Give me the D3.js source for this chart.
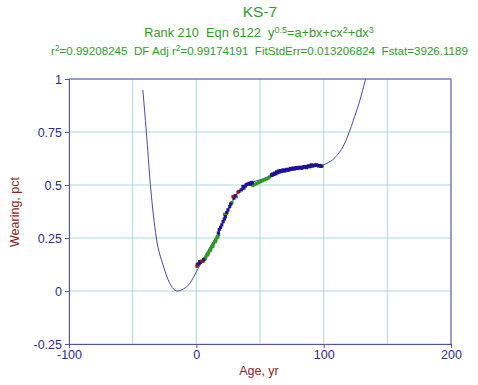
<!DOCTYPE html>
<html><head><meta charset="utf-8">
<script src="https://cdn.jsdelivr.net/npm/d3@7/dist/d3.min.js"></script>
<style>body{margin:0;background:#fff}svg{display:block}</style>
</head><body>
<script>
const xTicks = [-100, 0, 100, 200];
const xGrid = [-100, -50, 0, 50, 100, 150, 200];
const yTicks = [-0.25, 0, 0.25, 0.5, 0.75, 1];

const curveX = [-42, -39.3, -36.1, -31.4, -26.2, -21, -15, -10, -5, 0, 5, 10, 17, 22, 25, 28.8, 33, 39.3, 45, 49.7, 57, 65, 73, 81, 90, 99.5, 104, 107.3, 110.5, 113.9, 117, 120.4, 123, 128, 133, 136];
const curveY = [0.948, 0.754, 0.502, 0.25, 0.124, 0.038, 0.0, 0.01, 0.037, 0.09, 0.146, 0.2, 0.272, 0.335, 0.378, 0.428, 0.465, 0.5, 0.515, 0.524, 0.54, 0.556, 0.569, 0.579, 0.587, 0.595, 0.607, 0.62, 0.64, 0.667, 0.703, 0.754, 0.8, 0.89, 1.0, 1.06];

const blueX = [0.8, 1.5, 2.4, 2.6, 3.3, 4.6, 5.7, 17.3, 18, 19, 20, 21, 22, 22.8, 24, 24.8, 26.2, 27, 29.5, 30.5, 33.5, 35.3, 36.6, 37.4, 38.5, 39.3, 40.5, 41.5, 42.3, 43.2, 44,
  58.9, 59.5, 60, 61, 61.5, 62.5, 63, 64, 64.5, 65.5, 66, 67, 68, 69, 69.5, 70.5, 71, 72, 72.5, 73.5, 74, 75, 75.9, 76.5, 77, 78, 78.5, 79.5, 80, 81, 81.5, 82.5, 83, 83.7, 84.5, 85, 86, 86.5, 87.5, 88, 89, 89.5, 90.3, 91, 91.5, 92.5, 93, 94, 94.5, 95.5, 96, 96.9, 97.5, 98];
const blueY = [0.125, 0.127, 0.132, 0.138, 0.135, 0.14, 0.148, 0.274, 0.29, 0.30, 0.312, 0.327, 0.34, 0.351, 0.37, 0.383, 0.398, 0.41, 0.438, 0.45, 0.47, 0.477, 0.493, 0.485, 0.495, 0.502, 0.505, 0.508, 0.503, 0.512, 0.51,
  0.548, 0.545, 0.552, 0.55, 0.556, 0.553, 0.562, 0.558, 0.566, 0.562, 0.568, 0.565, 0.571, 0.569, 0.566, 0.572, 0.574, 0.571, 0.57, 0.575, 0.578, 0.574, 0.58, 0.577, 0.576, 0.58, 0.582, 0.578, 0.579, 0.583, 0.583, 0.58, 0.58, 0.584, 0.586, 0.587, 0.584, 0.582, 0.588, 0.59, 0.586, 0.589, 0.595, 0.591, 0.59, 0.592, 0.593, 0.595, 0.594, 0.592, 0.59, 0.592, 0.59, 0.588];

const greenX = [5.5, 6.5, 7.5, 8.5, 9.5, 10.5, 11.5, 12.5, 13.5, 14.5, 15.5, 16.5, 17.5, 7, 9, 11, 13, 15, 17, 22.2, 23.6, 27.5, 28, 31.4, 44.5, 46, 47.5, 49, 50.5, 52, 53.6, 55, 56.3, 57.6, 99];
const greenY = [0.142, 0.15, 0.16, 0.17, 0.18, 0.19, 0.2, 0.21, 0.222, 0.232, 0.243, 0.254, 0.266, 0.152, 0.172, 0.192, 0.212, 0.235, 0.256, 0.362, 0.367, 0.414, 0.418, 0.445, 0.497, 0.503, 0.507, 0.512, 0.516, 0.52, 0.524, 0.528, 0.532, 0.538, 0.59];

const redX = [0.5, 4.2, 28.8, 32.7];
const redY = [0.117, 0.14, 0.445, 0.466];

const W = 478, H = 385;
const m = {left: 69, right: 27, top: 79, bottom: 41};
const svg = d3.select("body").append("svg").attr("width", W).attr("height", H)
  .style("font-family", "'Liberation Sans', Arial, sans-serif");

const x = d3.scaleLinear().domain([-100, 200]).range([m.left, W - m.right]);
const y = d3.scaleLinear().domain([-0.25, 1]).range([H - m.bottom, m.top]);

const axisCol = "#5a4fa8", gridCol = "#a9d9d6", tickTxt = "#2b2b8c";

// grid
svg.append("g").selectAll("line").data(xGrid).join("line")
  .attr("x1", d => x(d)).attr("x2", d => x(d)).attr("y1", y(1)).attr("y2", y(-0.25))
  .attr("stroke", gridCol).attr("stroke-width", 1);
svg.append("g").selectAll("line").data(yTicks).join("line")
  .attr("y1", d => y(d)).attr("y2", d => y(d)).attr("x1", x(-100)).attr("x2", x(200))
  .attr("stroke", gridCol).attr("stroke-width", 1);

// clip
svg.append("clipPath").attr("id", "clip").append("rect")
  .attr("x", x(-100)).attr("y", y(1)).attr("width", x(200) - x(-100)).attr("height", y(-0.25) - y(1));

// curve
const curveData = curveX.map((d, i) => [d, curveY[i]]);
svg.append("path").datum(curveData).attr("clip-path", "url(#clip)")
  .attr("d", d3.line().x(d => x(d[0])).y(d => y(d[1])).curve(d3.curveMonotoneX))
  .attr("fill", "none").attr("stroke", "#4b45b0").attr("stroke-width", 1);

// points
function pts(xs, ys, col) {
  svg.append("g").selectAll("rect").data(xs.map((d, i) => [d, ys[i]])).join("rect")
    .attr("x", d => x(d[0]) - 1.6).attr("y", d => y(d[1]) - 1.6)
    .attr("width", 3.2).attr("height", 3.2).attr("fill", col);
}
pts(greenX, greenY, "#2f9a22");
pts(blueX, blueY, "#1f1190");
pts(redX, redY, "#9a1616");

// axes
const xAxis = svg.append("g").attr("transform", `translate(0,${y(-0.25)})`)
  .call(d3.axisBottom(x).tickValues(xTicks).tickSize(4).tickPadding(2).tickFormat(d => String(d)));
const yAxis = svg.append("g").attr("transform", `translate(${x(-100)},0)`)
  .call(d3.axisLeft(y).tickValues(yTicks).tickSize(4).tickPadding(3).tickFormat(d => String(d)));
[xAxis, yAxis].forEach(g => {
  g.select(".domain").attr("stroke", axisCol);
  g.selectAll(".tick line").attr("stroke", axisCol);
  g.selectAll(".tick text").attr("fill", tickTxt).style("font-size", "12.5px").style("font-family", "'Liberation Sans', Arial, sans-serif");
});
// top/right border
svg.append("line").attr("x1", x(-100)).attr("x2", x(200)).attr("y1", y(1)).attr("y2", y(1)).attr("stroke", axisCol);
svg.append("line").attr("x1", x(200)).attr("x2", x(200)).attr("y1", y(1)).attr("y2", y(-0.25)).attr("stroke", axisCol);

// titles
const green = "#339a2a";
svg.append("text").attr("x", 260).attr("y", 17).attr("text-anchor", "middle")
  .attr("fill", green).style("font-size", "15.5px").text("KS-7");
const t2 = svg.append("text").attr("x", 259).attr("y", 37).attr("text-anchor", "middle")
  .attr("fill", green).style("font-size", "12.8px").style("white-space", "pre");
t2.append("tspan").text("Rank 210  Eqn 6122  y");
t2.append("tspan").attr("dy", -4.5).style("font-size", "9px").text("0.5");
t2.append("tspan").attr("dy", 4.5).text("=a+bx+cx");
t2.append("tspan").attr("dy", -4.5).style("font-size", "9px").text("2");
t2.append("tspan").attr("dy", 4.5).text("+dx");
t2.append("tspan").attr("dy", -4.5).style("font-size", "9px").text("3");

const t3 = svg.append("text").attr("x", 259.5).attr("y", 54.5).attr("text-anchor", "middle")
  .attr("fill", green).style("font-size", "11.6px").style("white-space", "pre");
t3.append("tspan").text("r");
t3.append("tspan").attr("dy", -4).style("font-size", "8.2px").text("2");
t3.append("tspan").attr("dy", 4).text("=0.99208245  DF Adj r");
t3.append("tspan").attr("dy", -4).style("font-size", "8.2px").text("2");
t3.append("tspan").attr("dy", 4).text("=0.99174191  FitStdErr=0.013206824  Fstat=3926.1189");

// axis titles
const red = "#8e2323";
svg.append("text").attr("x", 259).attr("y", 375).attr("text-anchor", "middle")
  .attr("fill", red).style("font-size", "12.5px").text("Age, yr");
svg.append("text").attr("transform", "translate(19,212) rotate(-90)").attr("text-anchor", "middle")
  .attr("fill", red).style("font-size", "12.5px").text("Wearing, pct");
</script>
</body></html>
